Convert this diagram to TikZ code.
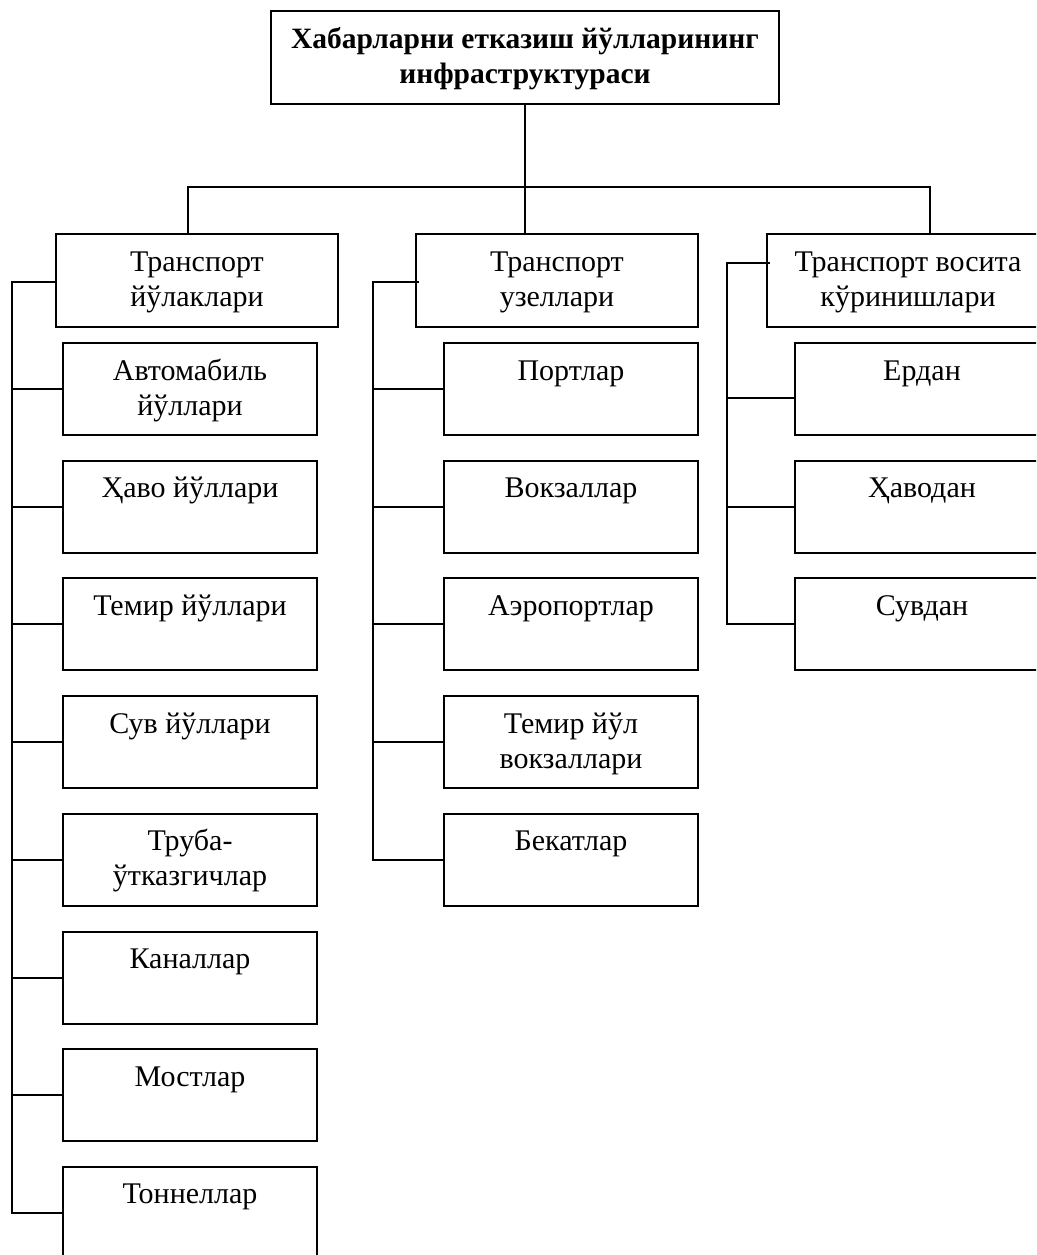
\documentclass[tikz,border=0pt]{standalone}
\usepackage{fontspec}
\setmainfont{Liberation Serif}
\usetikzlibrary{calc}
\newcommand\tstr{\rule{0pt}{28pt}}
\begin{document}
\begin{tikzpicture}[x=1pt,y=-1pt, line width=2pt,
  boxst/.style={draw, rectangle, inner sep=0pt, anchor=north west},
  subbox/.style={boxst, minimum width=254pt, minimum height=92pt},
  headbox/.style={boxst, minimum width=282pt, minimum height=93pt},
  txt/.style={anchor=north, inner sep=0pt, align=center, font=\fontsize{30}{35}\selectfont},
  conn/.style={line width=2pt}]
\clip (0,0) rectangle (1036,1255);
% top
\node[boxst, minimum width=508pt, minimum height=93pt] (top) at (270,10) {};
\node[txt, font=\fontsize{29.5}{35}\selectfont\bfseries] (topt) at ($(top.north)+(0,9)$) {\tstr Хабарларни етказиш йўлларининг\\инфраструктураси};
% heads
\node[headbox] (b1) at (55,233) {};
\node[headbox] (b2) at (415,233) {};
\node[headbox] (b3) at (766,233) {};
\node[txt] (b1t) at ($(b1.north)+(0,9)$) {\tstr Транспорт\\йўлаклари};
\node[txt] (b2t) at ($(b2.north)+(0,9)$) {\tstr Транспорт\\узеллари};
\node[txt] (b3t) at ($(b3.north)+(0,9)$) {\tstr Транспорт восита\\кўринишлари};
% column 1
\node[subbox] (a1) at (62,342) {};
\node[subbox] (a2) at (62,459.7) {};
\node[subbox] (a3) at (62,577.4) {};
\node[subbox] (a4) at (62,695.1) {};
\node[subbox] (a5) at (62,812.8) {};
\node[subbox] (a6) at (62,930.5) {};
\node[subbox] (a7) at (62,1048.2) {};
\node[subbox] (a8) at (62,1165.9) {};
\node[txt] (a1t) at ($(a1.north)+(0,9)$) {\tstr Автомабиль\\йўллари};
\node[txt] (a2t) at ($(a2.north)+(0,9)$) {\tstr Ҳаво йўллари};
\node[txt] (a3t) at ($(a3.north)+(0,9)$) {\tstr Темир йўллари};
\node[txt] (a4t) at ($(a4.north)+(0,9)$) {\tstr Сув йўллари};
\node[txt] (a5t) at ($(a5.north)+(0,9)$) {\tstr Труба-\\ўтказгичлар};
\node[txt] (a6t) at ($(a6.north)+(0,9)$) {\tstr Каналлар};
\node[txt] (a7t) at ($(a7.north)+(0,9)$) {\tstr Мостлар};
\node[txt] (a8t) at ($(a8.north)+(0,9)$) {\tstr Тоннеллар};
% column 2
\node[subbox] (d1) at (443,342) {};
\node[subbox] (d2) at (443,459.7) {};
\node[subbox] (d3) at (443,577.4) {};
\node[subbox] (d4) at (443,695.1) {};
\node[subbox] (d5) at (443,812.8) {};
\node[txt] (d1t) at ($(d1.north)+(0,9)$) {\tstr Портлар};
\node[txt] (d2t) at ($(d2.north)+(0,9)$) {\tstr Вокзаллар};
\node[txt] (d3t) at ($(d3.north)+(0,9)$) {\tstr Аэропортлар};
\node[txt] (d4t) at ($(d4.north)+(0,9)$) {\tstr Темир йўл\\вокзаллари};
\node[txt] (d5t) at ($(d5.north)+(0,9)$) {\tstr Бекатлар};
% column 3
\node[subbox] (c1) at (794,342) {};
\node[subbox] (c2) at (794,459.7) {};
\node[subbox] (c3) at (794,577.4) {};
\node[txt] (c1t) at ($(c1.north)+(0,9)$) {\tstr Ердан};
\node[txt] (c2t) at ($(c2.north)+(0,9)$) {\tstr Ҳаводан};
\node[txt] (c3t) at ($(c3.north)+(0,9)$) {\tstr Сувдан};
% connector coordinates
\coordinate (s1) at (12,0);
\coordinate (s2) at (373,0);
\coordinate (s3) at (727,0);
\coordinate (k1) at (188,187);
\coordinate (k3) at (930,187);
\coordinate (j1) at (55,282);
\coordinate (j2) at (419,282);
\coordinate (j3) at (770,263);
\coordinate (e1) at ($(c1.west)+(0,9)$);
% top connectors
\draw[conn] (top.south) -- (top.south |- b2.north);
\draw[conn] (k1 |- b1.north) -- (k1) -- (k3) -- (k3 |- b3.north);
% column 1 spine
\draw[conn] (j1) -- (s1 |- j1) -- (s1 |- a8.west) -- (a8.west);
\foreach \n in {a1,a2,a3,a4,a5,a6,a7} \draw[conn] (s1 |- \n.west) -- (\n.west);
% column 2 spine
\draw[conn] (j2) -- (s2 |- j2) -- (s2 |- d5.west) -- (d5.west);
\foreach \n in {d1,d2,d3,d4} \draw[conn] (s2 |- \n.west) -- (\n.west);
% column 3 spine
\draw[conn] (j3) -- (s3 |- j3) -- (s3 |- c3.west) -- (c3.west);
\draw[conn] (s3 |- e1) -- (e1);
\draw[conn] (s3 |- c2.west) -- (c2.west);
\end{tikzpicture}
\end{document}
